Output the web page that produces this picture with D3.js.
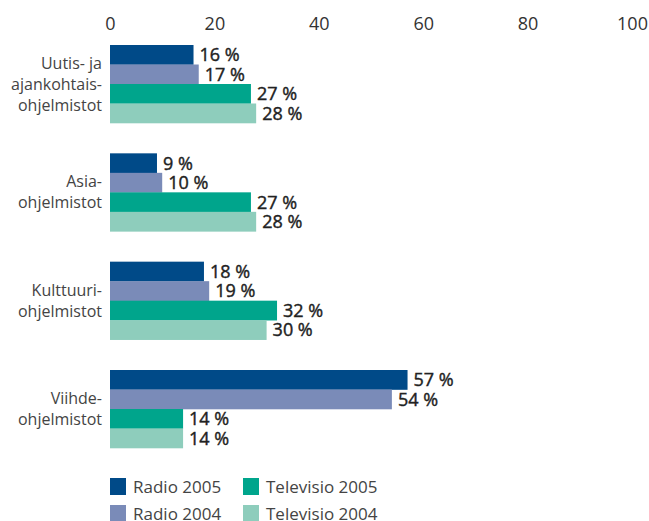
<!DOCTYPE html>
<html>
<head>
<meta charset="utf-8">
<script src="https://cdn.jsdelivr.net/npm/d3@7"></script>
<style>
  body { margin: 0; background: #fff; }
  svg { font-family: "Open Sans", sans-serif; }
</style>
</head>
<body>
<div id="chart"></div>
<script>
// data
var categories = [
  ["Uutis- ja", "ajankohtais-", "ohjelmistot"],
  ["Asia-", "ohjelmistot"],
  ["Kulttuuri-", "ohjelmistot"],
  ["Viihde-", "ohjelmistot"]
];
var seriesNames = ["Radio 2005", "Radio 2004", "Televisio 2005", "Televisio 2004"];
var radio2005 = [16, 9, 18, 57];
var radio2004 = [17, 10, 19, 54];
var tv2005 = [27, 27, 32, 14];
var tv2004 = [28, 28, 30, 14];
var xTicks = [0, 20, 40, 60, 80, 100];

var series = [radio2005, radio2004, tv2005, tv2004];
var colors = ["#004a88", "#7a8bb8", "#00a58c", "#8ecdbc"];

var width = 649, height = 521;
var svg = d3.select("#chart").append("svg").attr("width", width).attr("height", height);

var x = d3.scaleLinear().domain([0, 100]).range([110, 632]);
var y = d3.scaleBand().domain(d3.range(categories.length)).range([45, 448]).paddingInner(0.28);
var ySub = d3.scaleBand().domain(d3.range(series.length)).range([0, y.bandwidth()]);

// top axis, labels only
var axis = svg.append("g").attr("transform", "translate(0,30)")
  .call(d3.axisTop(x).tickValues(xTicks).tickSize(0).tickPadding(0));
axis.select(".domain").remove();
axis.selectAll("text").attr("font-size", 18).attr("fill", "#333")
  .attr("font-family", "Open Sans, sans-serif");

// groups
var groups = svg.selectAll("g.grp").data(categories).enter().append("g")
  .attr("class", "grp")
  .attr("transform", (d, i) => "translate(0," + y(i) + ")");

groups.each(function (cat, ci) {
  var g = d3.select(this);
  series.forEach(function (s, si) {
    g.append("rect")
      .attr("x", x(0))
      .attr("y", ySub(si))
      .attr("width", x(s[ci]) - x(0))
      .attr("height", ySub.bandwidth() + 0.3)
      .attr("fill", colors[si]);
    g.append("text")
      .attr("x", x(s[ci]) + 6)
      .attr("y", ySub(si) + ySub.bandwidth() / 2 + 6.5)
      .attr("font-size", 18)
      .attr("fill", "#222")
      .attr("stroke", "#222")
      .attr("stroke-width", 0.4)
      .text(s[ci] + " %");
  });
  var lh = 21;
  var mid = y.bandwidth() / 2 + 5.5;
  cat.forEach(function (line, li) {
    g.append("text")
      .attr("x", 102)
      .attr("y", mid + (li - (cat.length - 1) / 2) * lh)
      .attr("text-anchor", "end")
      .attr("font-size", 16)
      .attr("fill", "#444")
      .text(line);
  });
});

// legend
var legendPos = [[110, 478], [110, 505], [243, 478], [243, 505]];
seriesNames.forEach(function (name, i) {
  var p = legendPos[i];
  svg.append("rect").attr("x", p[0]).attr("y", p[1]).attr("width", 16).attr("height", 17).attr("fill", colors[i]);
  svg.append("text").attr("x", p[0] + 23).attr("y", p[1] + 14.5)
    .attr("font-size", 17).attr("fill", "#444").text(name);
});
</script>
</body>
</html>
